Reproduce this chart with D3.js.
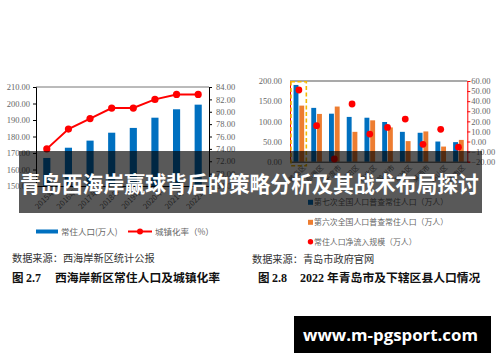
<!DOCTYPE html>
<html><head><meta charset="utf-8">
<script src="https://cdn.jsdelivr.net/npm/d3@7"></script>
<style>html,body{margin:0;padding:0;background:#fff;}svg{display:block;}</style>
</head><body>
<svg id="c" width="500" height="362"></svg>
<script>
// ---- Data: left chart (Fig 2.7) ----
const years = ["2015年","2016年","2017年","2018年","2019年","2020年","2021年","2022年"];
const residentPop = [167.0, 173.2, 177.5, 182.3, 185.2, 191.4, 196.5, 199.3];
const urbanRate = [74.0, 77.2, 78.9, 80.6, 80.6, 82.0, 82.8, 82.8];
const leftTicksL = [150,160,170,180,190,200,210];
const leftTicksR = [68,70,72,74,76,78,80,82,84];

// ---- Data: right chart (Fig 2.8) ----
const districts = ["黄岛区","即墨区","平度市","城阳区","市北区","胶州市","李沧区","莱西市","崂山区","市南区"];
const census7 = [190.2, 133.4, 119.0, 111.0, 109.0, 98.4, 74.0, 71.7, 50.0, 48.5];
const census6 = [139.0, 118.4, 136.7, 74.0, 102.5, 85.0, 51.0, 75.0, 37.5, 54.0];
const netInflow = [51.1, 15.7, -17.3, 37.2, 7.4, 14.0, 22.3, -2.8, 12.1, -5.6];
const rightTicksL = [0,50,100,150,200];
const rightTicksR = [-20,-10,0,10,20,30,40,50,60];

const svg = d3.select("#c");
const numFont = "'Liberation Serif','DejaVu Serif',serif";
const cjk = "'Noto Sans CJK SC','Noto Sans',sans-serif";
const BLUE = "#0070C0", ORANGE = "#ED7D31", RED = "#FF0000", GRAY = "#666";

function styleAxis(g, color, lineColor){
  g.selectAll("text").attr("font-family", numFont).attr("font-size", 8.5).attr("fill", GRAY);
  g.selectAll("line").attr("stroke", color);
  g.select(".domain").attr("stroke", lineColor || color);
}

// ================= LEFT CHART =================
{
  const L = 36, R = 209, T = 87, B = 186;
  const x = d3.scaleBand().domain(years).range([L, R]).paddingInner(0.67).paddingOuter(0.335);
  const yL = d3.scaleLinear().domain([150, 210]).range([B, T]);
  const yR = d3.scaleLinear().domain([68, 84]).range([B, T]);
  const g = svg.append("g");

  // top border
  g.append("line").attr("x1", L).attr("x2", R).attr("y1", T).attr("y2", T).attr("stroke", "#777").attr("stroke-width", 1);

  g.selectAll("rect.bar").data(residentPop).join("rect")
    .attr("x", (d,i) => x(years[i])).attr("width", x.bandwidth())
    .attr("y", d => yL(d)).attr("height", d => B - yL(d)).attr("fill", BLUE);

  const axL = g.append("g").attr("transform", `translate(${L},0)`)
    .call(d3.axisLeft(yL).tickValues(leftTicksL).tickSize(3).tickPadding(3).tickFormat(d3.format(".2f")));
  styleAxis(axL, "#000");
  const axR = g.append("g").attr("transform", `translate(${R},0)`)
    .call(d3.axisRight(yR).tickValues(leftTicksR).tickSize(3).tickPadding(4).tickFormat(d3.format(".2f")));
  styleAxis(axR, "#000");
  const axB = g.append("g").attr("transform", `translate(0,${B})`)
    .call(d3.axisBottom(x).tickSize(0).tickPadding(4));
  axB.select(".domain").attr("stroke", "#000");
  axB.selectAll("text").attr("font-family", cjk).attr("font-size", 7.5).attr("fill", GRAY)
    .attr("text-anchor", "end").attr("dy", "0.3em").attr("transform", "translate(4,2) rotate(-45)");

  const cx = d => x(d) + x.bandwidth()/2;
  const line = d3.line().x((d,i) => cx(years[i])).y(d => yR(d));
  g.append("path").datum(urbanRate).attr("d", line).attr("fill", "none").attr("stroke", RED).attr("stroke-width", 2);
  g.selectAll("circle.pt").data(urbanRate).join("circle")
    .attr("cx", (d,i) => cx(years[i])).attr("cy", d => yR(d)).attr("r", 3.6).attr("fill", RED);

  // legend
  g.append("rect").attr("x", 36).attr("y", 229.5).attr("width", 22).attr("height", 4).attr("fill", BLUE);
  g.append("text").attr("x", 61).attr("y", 234.5).attr("font-family", cjk).attr("font-size", 8.5).attr("fill", GRAY).text("常住人口(万人)");
  g.append("line").attr("x1", 128).attr("x2", 152).attr("y1", 231.5).attr("y2", 231.5).attr("stroke", RED).attr("stroke-width", 2);
  g.append("circle").attr("cx", 140).attr("cy", 231.5).attr("r", 3).attr("fill", RED);
  g.append("text").attr("x", 155).attr("y", 234.5).attr("font-family", cjk).attr("font-size", 8.5).attr("fill", GRAY).text("城镇化率（%）");
}

// ================= RIGHT CHART =================
{
  const L = 290, R = 467.3, T = 81, B = 161.7;
  const x0 = d3.scaleBand().domain(districts).range([L, R]).padding(0);
  const bw = x0.bandwidth();
  const x1 = d3.scaleBand().domain(["c7","c6"]).range([bw*0.2, bw*0.8]).paddingInner(0.15);
  const yL = d3.scaleLinear().domain([0, 200]).range([B, T]);
  const yR = d3.scaleLinear().domain([-20, 60]).range([B, T]);
  const g = svg.append("g");

  g.append("line").attr("x1", L).attr("x2", R).attr("y1", T).attr("y2", T).attr("stroke", "#555").attr("stroke-width", 1.2);

  g.selectAll("rect.c7").data(census7).join("rect")
    .attr("x", (d,i) => x0(districts[i]) + x1("c7")).attr("width", x1.bandwidth())
    .attr("y", d => yL(d)).attr("height", d => B - yL(d)).attr("fill", BLUE);
  g.selectAll("rect.c6").data(census6).join("rect")
    .attr("x", (d,i) => x0(districts[i]) + x1("c6")).attr("width", x1.bandwidth())
    .attr("y", d => yL(d)).attr("height", d => B - yL(d)).attr("fill", ORANGE);

  const axL = g.append("g").attr("transform", `translate(${L},0)`)
    .call(d3.axisLeft(yL).tickValues(rightTicksL).tickSize(0).tickPadding(8).tickFormat(d3.format(".2f")));
  styleAxis(axL, "#444", RED);
  const axR = g.append("g").attr("transform", `translate(${R},0)`)
    .call(d3.axisRight(yR).tickValues(rightTicksR).tickSize(3).tickPadding(1).tickFormat(d3.format(".2f")));
  styleAxis(axR, RED);
  const axB = g.append("g").attr("transform", `translate(0,${B})`)
    .call(d3.axisBottom(x0).tickSize(0).tickPadding(4));
  axB.select(".domain").attr("stroke", "#333");
  axB.selectAll("text").attr("font-family", cjk).attr("font-size", 7).attr("fill", GRAY)
    .attr("text-anchor", "end").attr("dy", "0.3em").attr("transform", "translate(3,2) rotate(-45)");

  g.selectAll("circle.net").data(netInflow).join("circle")
    .attr("cx", (d,i) => x0(districts[i]) + bw/2).attr("cy", d => yR(d)).attr("r", 3.4).attr("fill", RED);

  // highlight box around first group
  g.append("rect").attr("x", x0(districts[0]) + 1).attr("y", T + 0.8).attr("width", bw - 2.4).attr("height", 84)
    .attr("fill", "none").attr("stroke", "#F2B705").attr("stroke-width", 1.6).attr("stroke-dasharray", "4,2.5");

  // legend
  const legend = [["第七次全国人口普查常住人口（万人）", BLUE, "rect"], ["第六次全国人口普查常住人口（万人）", ORANGE, "rect"], ["常住人口净流入规模（万人）", RED, "circle"]];
  const ly = [202.3, 222.3, 241.7];
  legend.forEach((d, i) => {
    if (d[2] === "rect") g.append("rect").attr("x", 308).attr("y", ly[i] - 2.5).attr("width", 5).attr("height", 5).attr("fill", d[1]);
    else g.append("circle").attr("cx", 310.5).attr("cy", ly[i]).attr("r", 2.7).attr("fill", d[1]);
    g.append("text").attr("x", 314).attr("y", ly[i] + 3).attr("font-family", cjk).attr("font-size", 7.9).attr("fill", GRAY).text(d[0]);
  });
}

// ================= Sources and captions =================
svg.append("text").attr("x", 12).attr("y", 262).attr("font-family", cjk).attr("font-size", 10.2).attr("fill", "#333").text("数据来源：西海岸新区统计公报");
svg.append("text").attr("x", 252).attr("y", 262.5).attr("font-family", cjk).attr("font-size", 10.2).attr("fill", "#333").text("数据来源：青岛市政府官网");

const cap = (xx, num, txt, tx) => {
  svg.append("text").attr("x", xx).attr("y", 282).attr("font-family", cjk).attr("font-weight", "bold").attr("font-size", 11.5).attr("fill", "#111").text("图");
  svg.append("text").attr("x", xx + 14).attr("y", 282).attr("font-family", numFont).attr("font-weight", "bold").attr("font-size", 12).attr("fill", "#111").text(num);
  svg.append("text").attr("x", tx).attr("y", 282).attr("font-family", cjk).attr("font-weight", "bold").attr("font-size", 11.8).attr("fill", "#111").text(txt);
};
cap(12, "2.7", "西海岸新区常住人口及城镇化率", 55);
cap(258, "2.8", "", 300);
svg.append("text").attr("x", 300).attr("y", 282).attr("font-family", numFont).attr("font-weight", "bold").attr("font-size", 12).attr("fill", "#111").text("2022");
svg.append("text").attr("x", 327).attr("y", 282).attr("font-family", cjk).attr("font-weight", "bold").attr("font-size", 11.8).attr("fill", "#111").text("年青岛市及下辖区县人口情况");

// ================= Title banner =================
svg.append("rect").attr("x", 19).attr("y", 151).attr("width", 463).attr("height", 62).attr("fill", "rgba(0,0,0,0.65)");
svg.append("text").attr("x", 20).attr("y", 192).attr("font-family", cjk).attr("font-weight", "bold").attr("font-size", 21.5)
  .attr("fill", "#fff").attr("textLength", 459).attr("lengthAdjust", "spacingAndGlyphs").text("青岛西海岸赢球背后的策略分析及其战术布局探讨");

// ================= Watermark =================
svg.append("rect").attr("x", 294).attr("y", 316).attr("width", 197).attr("height", 37).attr("fill", "#000");
svg.append("text").attr("x", 303).attr("y", 341).attr("font-family", "'Open Sans','DejaVu Sans',sans-serif").attr("font-weight", "bold").attr("font-size", 16)
  .attr("fill", "#fff").attr("textLength", 175).attr("lengthAdjust", "spacingAndGlyphs").text("www.m-pgsport.com");
</script>
</body></html>
